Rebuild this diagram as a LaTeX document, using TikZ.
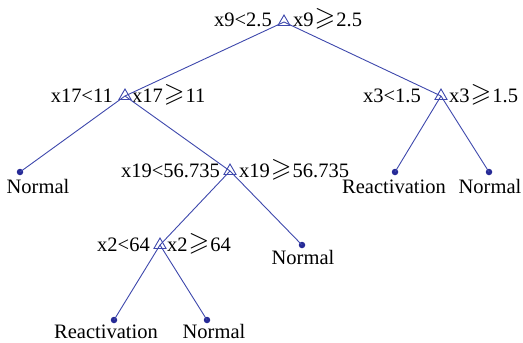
\documentclass[tikz,border=0pt]{standalone}
\usepackage{fix-cm}
\usepackage{amssymb}
\usepackage{fontspec}
\setmainfont{Liberation Serif}
\usetikzlibrary{shapes.geometric}
\definecolor{treeblue}{RGB}{62,72,172}
\definecolor{dotblue}{RGB}{38,42,150}
\newcommand{\gsl}{\hspace{1pt}\raisebox{1pt}{\scalebox{1.3}{$\geqslant$}}\hspace{1pt}}
\begin{document}
\begin{tikzpicture}[x=1pt, y=-1pt,
    split/.style={regular polygon, regular polygon sides=3, draw=treeblue, line width=0.9pt, minimum size=14pt, inner sep=0pt},
    leaf/.style={circle, fill=dotblue, minimum size=6.5pt, inner sep=0pt},
    lbl/.style={font=\fontsize{20.5}{24}\selectfont, inner sep=0pt},
    branch/.style={treeblue, line width=0.9pt}]
    \useasboundingbox (0,0) rectangle (523,343);

    % Split points
    \node[split] (s9) at (284,22) {};
    \node[split] (s17) at (125,96) {};
    \node[split] (s3) at (441,96) {};
    \node[split] (s19) at (230,171) {};
    \node[split] (s2) at (160,245) {};

    % Split conditions
    \node[lbl, anchor=base east] (s9l) at (272,26) {x9<2.5};
    \node[lbl, anchor=base west] (s9r) at (293,26) {x9\gsl2.5};
    \node[lbl, anchor=base east] (s17l) at (113,102) {x17<11};
    \node[lbl, anchor=base west] (s17r) at (132,102) {x17\gsl11};
    \node[lbl, anchor=base east] (s3l) at (421,102) {x3<1.5};
    \node[lbl, anchor=base west] (s3r) at (449,102) {x3\gsl1.5};
    \node[lbl, anchor=base east] (s19l) at (220,177) {x19<56.735};
    \node[lbl, anchor=base west] (s19r) at (239,177) {x19\gsl56.735};
    \node[lbl, anchor=base east] (s2l) at (150,251) {x2<64};
    \node[lbl, anchor=base west] (s2r) at (167,251) {x2\gsl64};

    % Leaves
    \node[leaf] (n1) at (20,172) {};
    \node[leaf] (r1) at (395,172) {};
    \node[leaf] (n2) at (489,172) {};
    \node[leaf] (n3) at (302,245) {};
    \node[leaf] (r2) at (114,320) {};
    \node[leaf] (n4) at (207,320) {};

    % Leaf classes
    \node[lbl, anchor=base] (n1t) at (38,193) {Normal};
    \node[lbl, anchor=base] (r1t) at (394,193) {Reactivation};
    \node[lbl, anchor=base] (n2t) at (490,193) {Normal};
    \node[lbl, anchor=base] (n3t) at (303,264) {Normal};
    \node[lbl, anchor=base] (r2t) at (106,338) {Reactivation};
    \node[lbl, anchor=base] (n4t) at (214,338) {Normal};

    % Branches
    \draw[branch] (s9.center) -- (s17.center);
    \draw[branch] (s9.center) -- (s3.center);
    \draw[branch] (s17.center) -- (n1.center);
    \draw[branch] (s17.center) -- (s19.center);
    \draw[branch] (s3.center) -- (r1.center);
    \draw[branch] (s3.center) -- (n2.center);
    \draw[branch] (s19.center) -- (s2.center);
    \draw[branch] (s19.center) -- (n3.center);
    \draw[branch] (s2.center) -- (r2.center);
    \draw[branch] (s2.center) -- (n4.center);
\end{tikzpicture}
\end{document}
